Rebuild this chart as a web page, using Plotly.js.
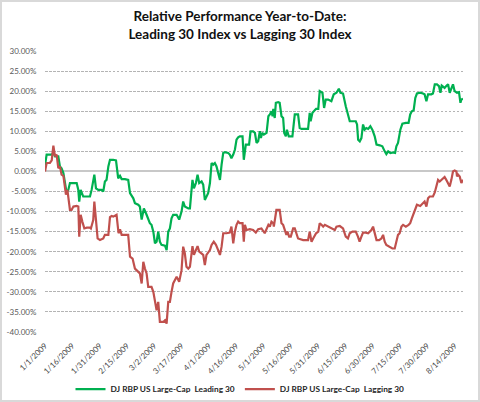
<!DOCTYPE html>
<html>
<head>
<meta charset="utf-8">
<script src="https://cdn.plot.ly/plotly-3.0.1.min.js"></script>
<style>
html,body{margin:0;padding:0;background:#fff;}
#wrap{position:relative;width:480px;height:402px;}
#chart{width:480px;height:402px;}
#frame{position:absolute;left:0;top:0;width:480px;height:402px;box-sizing:border-box;border:2px solid #d9d9d9;pointer-events:none;}
</style>
</head>
<body>
<div id="wrap"><div id="chart"></div><div id="frame"></div></div>
<script>
// Days elapsed since 1/1/2009 and relative performance in %
const leadDays = [0,0.9,3.7,4.6,5.5,7.3,8.2,9.1,10.1,11.0,11.9,12.8,13.7,15.6,17.4,18.3,18.8,19.6,20.5,21.0,22.9,24.7,25.6,26.5,27.1,28.0,29.3,31.1,32.0,32.9,33.8,34.8,35.7,37.5,39.0,40.2,41.2,42.1,43.9,45.7,46.7,48.5,49.4,51.2,52.1,53.1,54.3,55.8,57.6,
58.5,59.5,60.4,61.3,62.2,63.1,64.0,65.9,66.8,67.7,68.6,69.5,70.4,72.3,73.7,75.0,75.9,76.8,78.7,79.6,80.5,81.0,81.8,82.9,83.8,84.7,86.0,86.9,87.8,88.7,89.6,90.6,91.5,92.4,93.3,94.2,95.1,96.1,97.0,97.9,98.8,100.6,101.5,102.4,103.4,104.3,105.2,
106.1,107.0,108.5,109.2,109.8,110.3,112.1,112.9,114.3,115.3,116.2,117.1,118.0,118.6,119.3,120.2,121.7,122.7,123.5,124.4,125.0,125.4,126.2,126.8,128.1,128.9,129.9,130.8,131.4,132.3,132.9,133.9,134.7,135.9,136.6,137.2,139.0,139.9,140.9,143.6,144.5,145.4,145.9,146.9,147.7,148.9,150.1,150.9,152.4,153.3,154.2,155.5,157.3,158.6,160.1,161.4,162.3,163.7,165.2,166.4,167.4,168.9,170.7,171.4,
172.0,172.9,173.8,174.7,175.6,176.5,177.5,178.7,179.8,181.1,182.1,183.9,185.3,186.6,187.5,188.5,189.7,191.2,192.3,193.0,193.9,195.2,196.3,198.2,199.7,200.6,201.5,202.5,203.4,204.3,206.1,207.6,208.5,209.5,210.4,212.2,213.1,214.1,215.3,216.4,217.2,217.9,219.5,220.4,221.4,222.3,223.2,224.1,225.0,226.3,227.4,228.2,228.7,229.6];
const leadPct = [1.5,4.2,4.2,4.6,3.75,3.75,1.25,0.8,-0.4,-2.9,-5.4,-4.6,-2.9,-2.9,-2.9,-4.6,-7.5,-4.6,-5.4,-6.25,-6.25,-6.25,-4.6,-2.1,-0.8,-4.2,-4.6,-4.6,-5.0,-2.5,-2.1,1.25,2.9,2.9,2.75,-1.7,-1.1,-1.9,-1.9,-2.1,-5.4,-6.7,-7.9,-8.3,-8.75,-12,-9.2,-10.8,-12.9,
-13.3,-15,-17.9,-17.5,-15,-17.5,-18.3,-18.5,-19.6,-15,-14.2,-11.7,-10.8,-10.8,-12,-10,-7.5,-8.75,-9.2,-9.2,-4.6,-2.1,-4.2,-2.9,-0.8,-2.9,-2.5,-3.3,-7.1,-6.25,-5.4,-2.9,2.1,1.7,2.1,1.25,-0.4,-2.1,1.7,4.6,4.8,4.6,4.2,3.3,4.2,5.4,7.9,
8.5,8.75,8.75,2.9,5.4,6.7,6.7,10,10,9.6,7.1,7.5,10,8.3,9.6,9.2,9.6,13.75,14.2,15,13.75,15.6,13.3,17.1,17.25,17.1,13.75,13.3,9.6,8.75,10.4,8.75,8.75,8.75,11.7,14.2,14.2,10.8,10.6,10.6,10.6,14.6,12.5,14.6,15,15.6,15.6,20,19.6,15.8,17.9,17.9,17.5,19.2,19.6,20.6,19.6,19.4,16.25,13.75,12.5,12.5,12.5,11.7,
7.9,7.5,8.3,11.7,10.4,10.8,10.6,11.25,10.4,8.75,6.7,6.5,6.25,5.0,4.3,5.0,4.6,4.75,4.6,6.25,7.1,10.4,11.9,12.1,12.1,14.2,15,15.25,18.3,19.4,19.6,19.4,19.2,17.5,19.2,19.2,19.4,21.7,21.7,21.25,19.6,21.4,20.8,21.25,21.7,19.6,20.8,21.7,20,19.6,19.75,17.1,17.9,18.1];

const lagDays = [0,0.9,2.7,3.7,4.6,5.5,6.4,7.3,8.2,9.1,10.1,11.0,11.5,12.3,13.0,13.7,14.6,15.6,17.4,18.3,18.8,19.6,20.5,21.6,22.9,24.7,25.2,26.5,27.1,28.0,28.9,30.2,32.0,32.9,34.8,35.7,36.6,37.5,39.3,40.4,41.2,42.1,43.9,45.7,46.7,48.1,49.4,
52.1,53.1,54.0,54.9,55.8,56.7,58.5,59.5,60.4,61.3,62.2,63.1,64.0,64.9,65.9,66.8,67.7,68.6,69.5,70.4,71.3,72.3,73.7,75.0,75.9,76.8,77.7,78.7,79.6,80.5,81.0,81.8,82.9,83.8,84.7,86.0,86.9,87.8,88.7,90.6,91.5,92.7,93.9,95.1,96.1,97.0,97.9,99.7,101.5,102.4,103.4,104.3,105.2,106.1,
107.0,108.5,109.2,109.8,110.7,112.5,114.3,115.8,117.1,118.9,120.7,122.7,123.5,124.4,125.4,125.7,126.4,127.1,128.9,129.9,130.8,132.6,133.2,134.1,135.0,136.3,137.2,139.0,141.8,144.5,145.4,146.4,147.3,148.9,150.1,150.9,151.9,152.8,153.7,155.5,157.3,159.2,160.1,161.9,163.7,165.2,166.4,167.4,168.9,170.7,171.9,172.8,
173.8,174.7,176.2,177.5,178.4,179.3,180.2,181.1,182.1,183.5,184.8,185.7,186.6,187.5,189.4,190.8,192.1,193.0,193.9,194.8,195.8,196.7,198.2,199.7,200.6,201.5,202.5,203.4,204.3,206.1,207.6,208.5,209.5,210.4,211.3,213.1,214.1,215.0,215.9,216.8,217.8,218.7,219.5,220.4,221.4,222.3,223.2,224.1,225.0,226.0,226.3,226.9,227.8,228.7,229.6];
const lagPct = [0,2.1,2.1,2.75,6.4,3.75,4.2,0.8,1.25,-0.8,-1.1,-3.75,-5.8,-4.6,-7.9,-9.6,-9.6,-8.75,-8.6,-8.75,-16.25,-10.8,-12.5,-14.2,-14.0,-14.0,-14.2,-12.1,-7.5,-11.25,-16.7,-17.1,-16.7,-15.8,-15.8,-11.4,-11.1,-11.25,-10.8,-15.4,-14.4,-15.8,-15.8,-15.8,-21.25,-21.7,-24.2,
-25.4,-27.9,-22.5,-24.2,-25.4,-28.75,-28.75,-30,-32.9,-34.6,-32.5,-37.5,-37.5,-37.5,-37.1,-37.9,-32.5,-32.5,-30,-27.9,-27.1,-26.25,-27.5,-24.6,-18.75,-20.4,-23.75,-24.2,-23.75,-20.4,-18.6,-20.8,-19.6,-18.6,-20,-20.4,-20.8,-23.3,-20.8,-19.6,-18.3,-17.5,-18.3,-19.6,-20.8,-18.75,-15.4,-15.4,-15.25,-13.75,-17.9,-15,-13.3,-12.5,
-12.9,-12.9,-17.5,-13.3,-14.6,-14.4,-14.6,-15.25,-14.4,-14.2,-15.4,-13.3,-13.75,-12.5,-12.9,-13.75,-11.25,-9.6,-9.6,-12.9,-13.3,-15.8,-15,-16.25,-16.25,-14.2,-14.2,-16.7,-17.1,-17.1,-15,-17.5,-16.7,-15.4,-15,-12.9,-13.3,-13.75,-13.3,-13.75,-14.2,-14.6,-13.75,-13.6,-14.2,-16.25,-16.7,-15.4,-15,-15,-16.25,-17.5,
-16.25,-15.25,-15.25,-15.4,-15,-14.6,-13.75,-15.4,-17.1,-17.1,-16.7,-15.8,-17.5,-18.3,-18.75,-19.2,-19.2,-17.5,-15.8,-15.4,-13.75,-13.3,-13.75,-13.3,-12.9,-11.7,-10.4,-9.2,-8.3,-8.6,-7.75,-7.5,-8.75,-6.7,-6.25,-6.25,-5.25,-3.3,-2.1,-2.5,-2.1,-1.7,-1.4,-2.1,-2.9,-3.75,-2.1,0,0.25,0,-1.25,-0.8,-1.25,-2.9,-2.1];

const seriesNames = ["DJ RBP US Large-Cap  Leading 30", "DJ RBP US Large-Cap  Lagging 30"];
const yTickValues = [30,25,20,15,10,5,0,-5,-10,-15,-20,-25,-30,-35,-40];
const yTickLabels = ["30.00%","25.00%","20.00%","15.00%","10.00%","5.00%","0.00%","-5.00%","-10.00%","-15.00%","-20.00%","-25.00%","-30.00%","-35.00%","-40.00%"];
const startDate = Date.UTC(2009, 0, 1);
const DAY = 86400000;

const toMs = d => startDate + d * DAY;

const traces = [
  {x: leadDays.map(toMs), y: leadPct, name: seriesNames[0], type: 'scatter', mode: 'lines',
   line: {color: 'rgb(0,176,80)', width: 2.2}},
  {x: lagDays.map(toMs), y: lagPct, name: seriesNames[1], type: 'scatter', mode: 'lines',
   line: {color: 'rgb(192,80,77)', width: 2.2}}
];

const font = 'Lato, "Open Sans", sans-serif';
const layout = {
  width: 480, height: 402,
  margin: {l: 45, r: 17, t: 51, b: 70},
  paper_bgcolor: '#ffffff', plot_bgcolor: '#ffffff',
  showlegend: true,
  title: {
    text: 'Relative Performance Year-to-Date:<br>Leading 30 Index vs Lagging 30 Index',
    x: 0.5, xref: 'container', xanchor: 'center',
    y: 0.947, yref: 'container', yanchor: 'top',
    font: {family: font, size: 13.5, color: '#111111', weight: 'bold'}
  },
  xaxis: {
    type: 'date',
    range: [toMs(0), toMs(leadDays[leadDays.length - 1])],
    tick0: toMs(0), dtick: 15 * DAY, tickmode: 'linear',
    tickformat: '%-m/%-d/%Y', tickangle: -45,
    tickfont: {family: font, size: 8, color: '#4a4a4a'},
    ticks: 'outside', ticklen: 5, tickcolor: 'rgba(0,0,0,0)',
    showgrid: false, zeroline: false, showline: false, fixedrange: true
  },
  yaxis: {
    range: [-40, 30], tickmode: 'array', tickvals: yTickValues, ticktext: yTickLabels,
    tickfont: {family: font, size: 8, color: '#595959'},
    ticks: 'outside', ticklen: 6, tickcolor: 'rgba(0,0,0,0)',
    showgrid: true, gridcolor: '#b4b4b4', gridwidth: 1, griddash: '2.5px,1.5px',
    zeroline: true, zerolinecolor: '#c8c8c8', zerolinewidth: 2,
    showline: false, fixedrange: true
  },
  legend: {
    orientation: 'h', xref: 'container', yref: 'container',
    x: 0.5, xanchor: 'center', y: 0.032, yanchor: 'middle',
    font: {family: font, size: 8.3, color: '#262626', weight: 'bold'},
    bgcolor: 'rgba(0,0,0,0)', itemwidth: 30, tracegroupgap: 0
  }
};

Plotly.newPlot('chart', traces, layout, {displayModeBar: false, staticPlot: true});
</script>
</body>
</html>
